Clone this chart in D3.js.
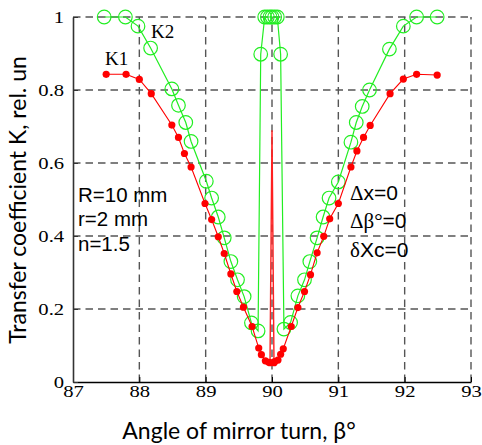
<!DOCTYPE html>
<html>
<head>
<meta charset="utf-8">
<script src="https://cdn.jsdelivr.net/npm/d3@7/dist/d3.min.js"></script>
<style>
  html, body { margin: 0; padding: 0; background: #fff; }
  svg { display: block; }
</style>
</head>
<body>
<svg id="chart" width="482" height="445"></svg>
<script>
// Mirror turn angle (degrees) and transfer coefficient K1 (red dots)
const k1Angle = [87.5, 87.8, 88.0, 88.18, 88.49, 88.59, 88.68, 88.78, 88.99, 89.09, 89.19, 89.28, 89.38, 89.47, 89.57, 89.7, 89.8, 89.84, 89.9, 89.95, 89.97,
                 90.03, 90.04, 90.09, 90.13, 90.17, 90.29, 90.39, 90.49, 90.58, 90.68, 90.78, 90.87, 91.0, 91.19, 91.28, 91.38, 91.48, 91.78, 91.98, 92.18, 92.49];
const k1Value = [0.843, 0.843, 0.829, 0.79, 0.704, 0.67, 0.626, 0.589, 0.489, 0.445, 0.398, 0.352, 0.296, 0.248, 0.205, 0.152, 0.093, 0.075, 0.058, 0.054, 0.053,
                 0.053, 0.056, 0.06, 0.076, 0.091, 0.152, 0.204, 0.248, 0.294, 0.354, 0.399, 0.447, 0.489, 0.589, 0.633, 0.67, 0.703, 0.79, 0.83, 0.843, 0.841];
// Narrow K1 peak at exactly 90 degrees
const k1PeakAngle = [89.97, 90.0, 90.03];
const k1PeakValue = [0.053, 0.69, 0.053];

// Transfer coefficient K2 (green open circles)
const k2Angle = [87.47, 87.79, 87.98, 88.17, 88.49, 88.59, 88.7, 88.78, 89.01, 89.09, 89.19, 89.28, 89.38, 89.48, 89.58, 89.69, 89.79, 89.83,
                 89.89, 89.93, 89.97, 90.0, 90.04, 90.08, 90.13,
                 90.18, 90.28, 90.39, 90.49, 90.57, 90.68, 90.77, 90.86, 91.0, 91.19, 91.27, 91.36, 91.47, 91.77, 91.98, 92.18, 92.49];
const k2Value = [1.0, 1.0, 0.975, 0.915, 0.803, 0.758, 0.711, 0.659, 0.55, 0.504, 0.452, 0.395, 0.33, 0.28, 0.234, 0.162, 0.14, 0.898,
                 1.0, 1.0, 1.0, 1.0, 1.0, 1.0, 0.898,
                 0.145, 0.163, 0.236, 0.28, 0.33, 0.395, 0.452, 0.504, 0.548, 0.657, 0.711, 0.755, 0.8, 0.912, 0.975, 1.0, 1.0];

const xTicks = [87, 88, 89, 90, 91, 92, 93];
const yTicks = [0, 0.2, 0.4, 0.6, 0.8, 1];

const leftNotes = ["R=10 mm", "r=2 mm", "n=1.5"];

const svg = d3.select("#chart");
const x = d3.scaleLinear().domain([87, 93]).range([73, 471]);
const y = d3.scaleLinear().domain([0, 1]).range([382, 17]);

const serif = "'Liberation Serif', 'Times New Roman', serif";
const sans = "'Liberation Sans', Arial, sans-serif";
const titleFont = "Lato, 'Open Sans', sans-serif";

// Dashed grid
const grid = svg.append("g");
grid.selectAll("line.vx").data(xTicks.slice(1)).join("line")
  .attr("x1", d => x(d)).attr("x2", d => x(d))
  .attr("y1", y(0)).attr("y2", y(1))
  .attr("stroke", "#555").attr("stroke-width", 1.4).attr("stroke-dasharray", "7.5,5");
grid.selectAll("line.hy").data(yTicks.slice(1)).join("line")
  .attr("x1", x(87)).attr("x2", x(93))
  .attr("y1", d => y(d)).attr("y2", d => y(d))
  .attr("stroke", "#555").attr("stroke-width", 1.4).attr("stroke-dasharray", "7.5,5");

// Axes
const xAxis = d3.axisBottom(x).tickValues(xTicks).tickFormat(d3.format("d"))
  .tickSizeInner(-5).tickSizeOuter(0).tickPadding(3);
const gx = svg.append("g").attr("transform", `translate(0,${y(0)})`).call(xAxis);
gx.select(".domain").attr("stroke", "#000").attr("stroke-width", 1.5);
gx.selectAll(".tick line").attr("stroke", "#000");
gx.selectAll(".tick text").attr("font-family", serif).attr("font-size", 17.5)
  .attr("fill", "#000").attr("transform", "scale(1.18,1)");

const yAxis = d3.axisLeft(y).tickValues(yTicks).tickFormat(d => d === 0 || d === 1 ? d3.format("d")(d) : d3.format(".1f")(d))
  .tickSizeInner(-5).tickSizeOuter(0).tickPadding(7.5);
const gy = svg.append("g").attr("transform", `translate(${x(87)},0)`).call(yAxis);
gy.select(".domain").attr("stroke", "#333").attr("stroke-width", 1.6);
gy.selectAll(".tick line").attr("stroke", "#333");
gy.selectAll(".tick text").attr("font-family", serif).attr("font-size", 17.5)
  .attr("fill", "#000").attr("transform", "scale(1.18,1)");

// Series
const line = d3.line().x(d => x(d[0])).y(d => y(d[1]));
const k2 = d3.zip(k2Angle, k2Value);
const k1 = d3.zip(k1Angle, k1Value);
const k1Peak = d3.zip(k1PeakAngle, k1PeakValue);

svg.append("path").datum(k2).attr("d", line)
  .attr("fill", "none").attr("stroke", "#22ee22").attr("stroke-width", 1.2);
svg.append("g").selectAll("circle").data(k2).join("circle")
  .attr("cx", d => x(d[0])).attr("cy", d => y(d[1])).attr("r", 6.8)
  .attr("fill", "none").attr("stroke", "#22ee22").attr("stroke-width", 1.2);

svg.append("path").datum(k1Peak).attr("d", line)
  .attr("fill", "none").attr("stroke", "#ff2020").attr("stroke-width", 1.4);
svg.append("path").datum(k1).attr("d", line)
  .attr("fill", "none").attr("stroke", "#ff0000").attr("stroke-width", 1.1);
svg.append("g").selectAll("circle").data(k1).join("circle")
  .attr("cx", d => x(d[0])).attr("cy", d => y(d[1])).attr("r", 3.6)
  .attr("fill", "#ff0000");

// Series labels
svg.append("text").attr("x", 105).attr("y", 65).attr("font-family", serif).attr("font-size", 19).text("K1");
svg.append("text").attr("x", 151).attr("y", 38).attr("font-family", serif).attr("font-size", 19).text("K2");

// Parameter notes
svg.append("g").selectAll("text").data(leftNotes).join("text")
  .attr("x", 78).attr("y", (d, i) => 201.5 + i * 24.5)
  .attr("font-family", sans).attr("font-size", 20.5).text(d => d);

const rightNotes = [
  [["Δ", serif], ["x=0", sans]],
  [["Δβ°", serif], ["=0", sans]],
  [["δ", serif], ["Xc=0", sans]]
];
const rn = svg.append("g").selectAll("text").data(rightNotes).join("text")
  .attr("x", 350).attr("y", (d, i) => 199.5 + i * 28.6)
  .attr("font-size", 21);
rn.selectAll("tspan").data(d => d).join("tspan")
  .attr("font-family", d => d[1]).text(d => d[0]);

// Axis titles
svg.append("text").attr("x", 239).attr("y", 439).attr("text-anchor", "middle")
  .attr("font-family", titleFont).attr("font-size", 23).text("Angle of mirror turn, β°");
svg.append("text").attr("transform", "translate(26,200) rotate(-90)").attr("text-anchor", "middle")
  .attr("font-family", titleFont).attr("font-size", 23).text("Transfer coefficient K, rel. un");
</script>
</body>
</html>
